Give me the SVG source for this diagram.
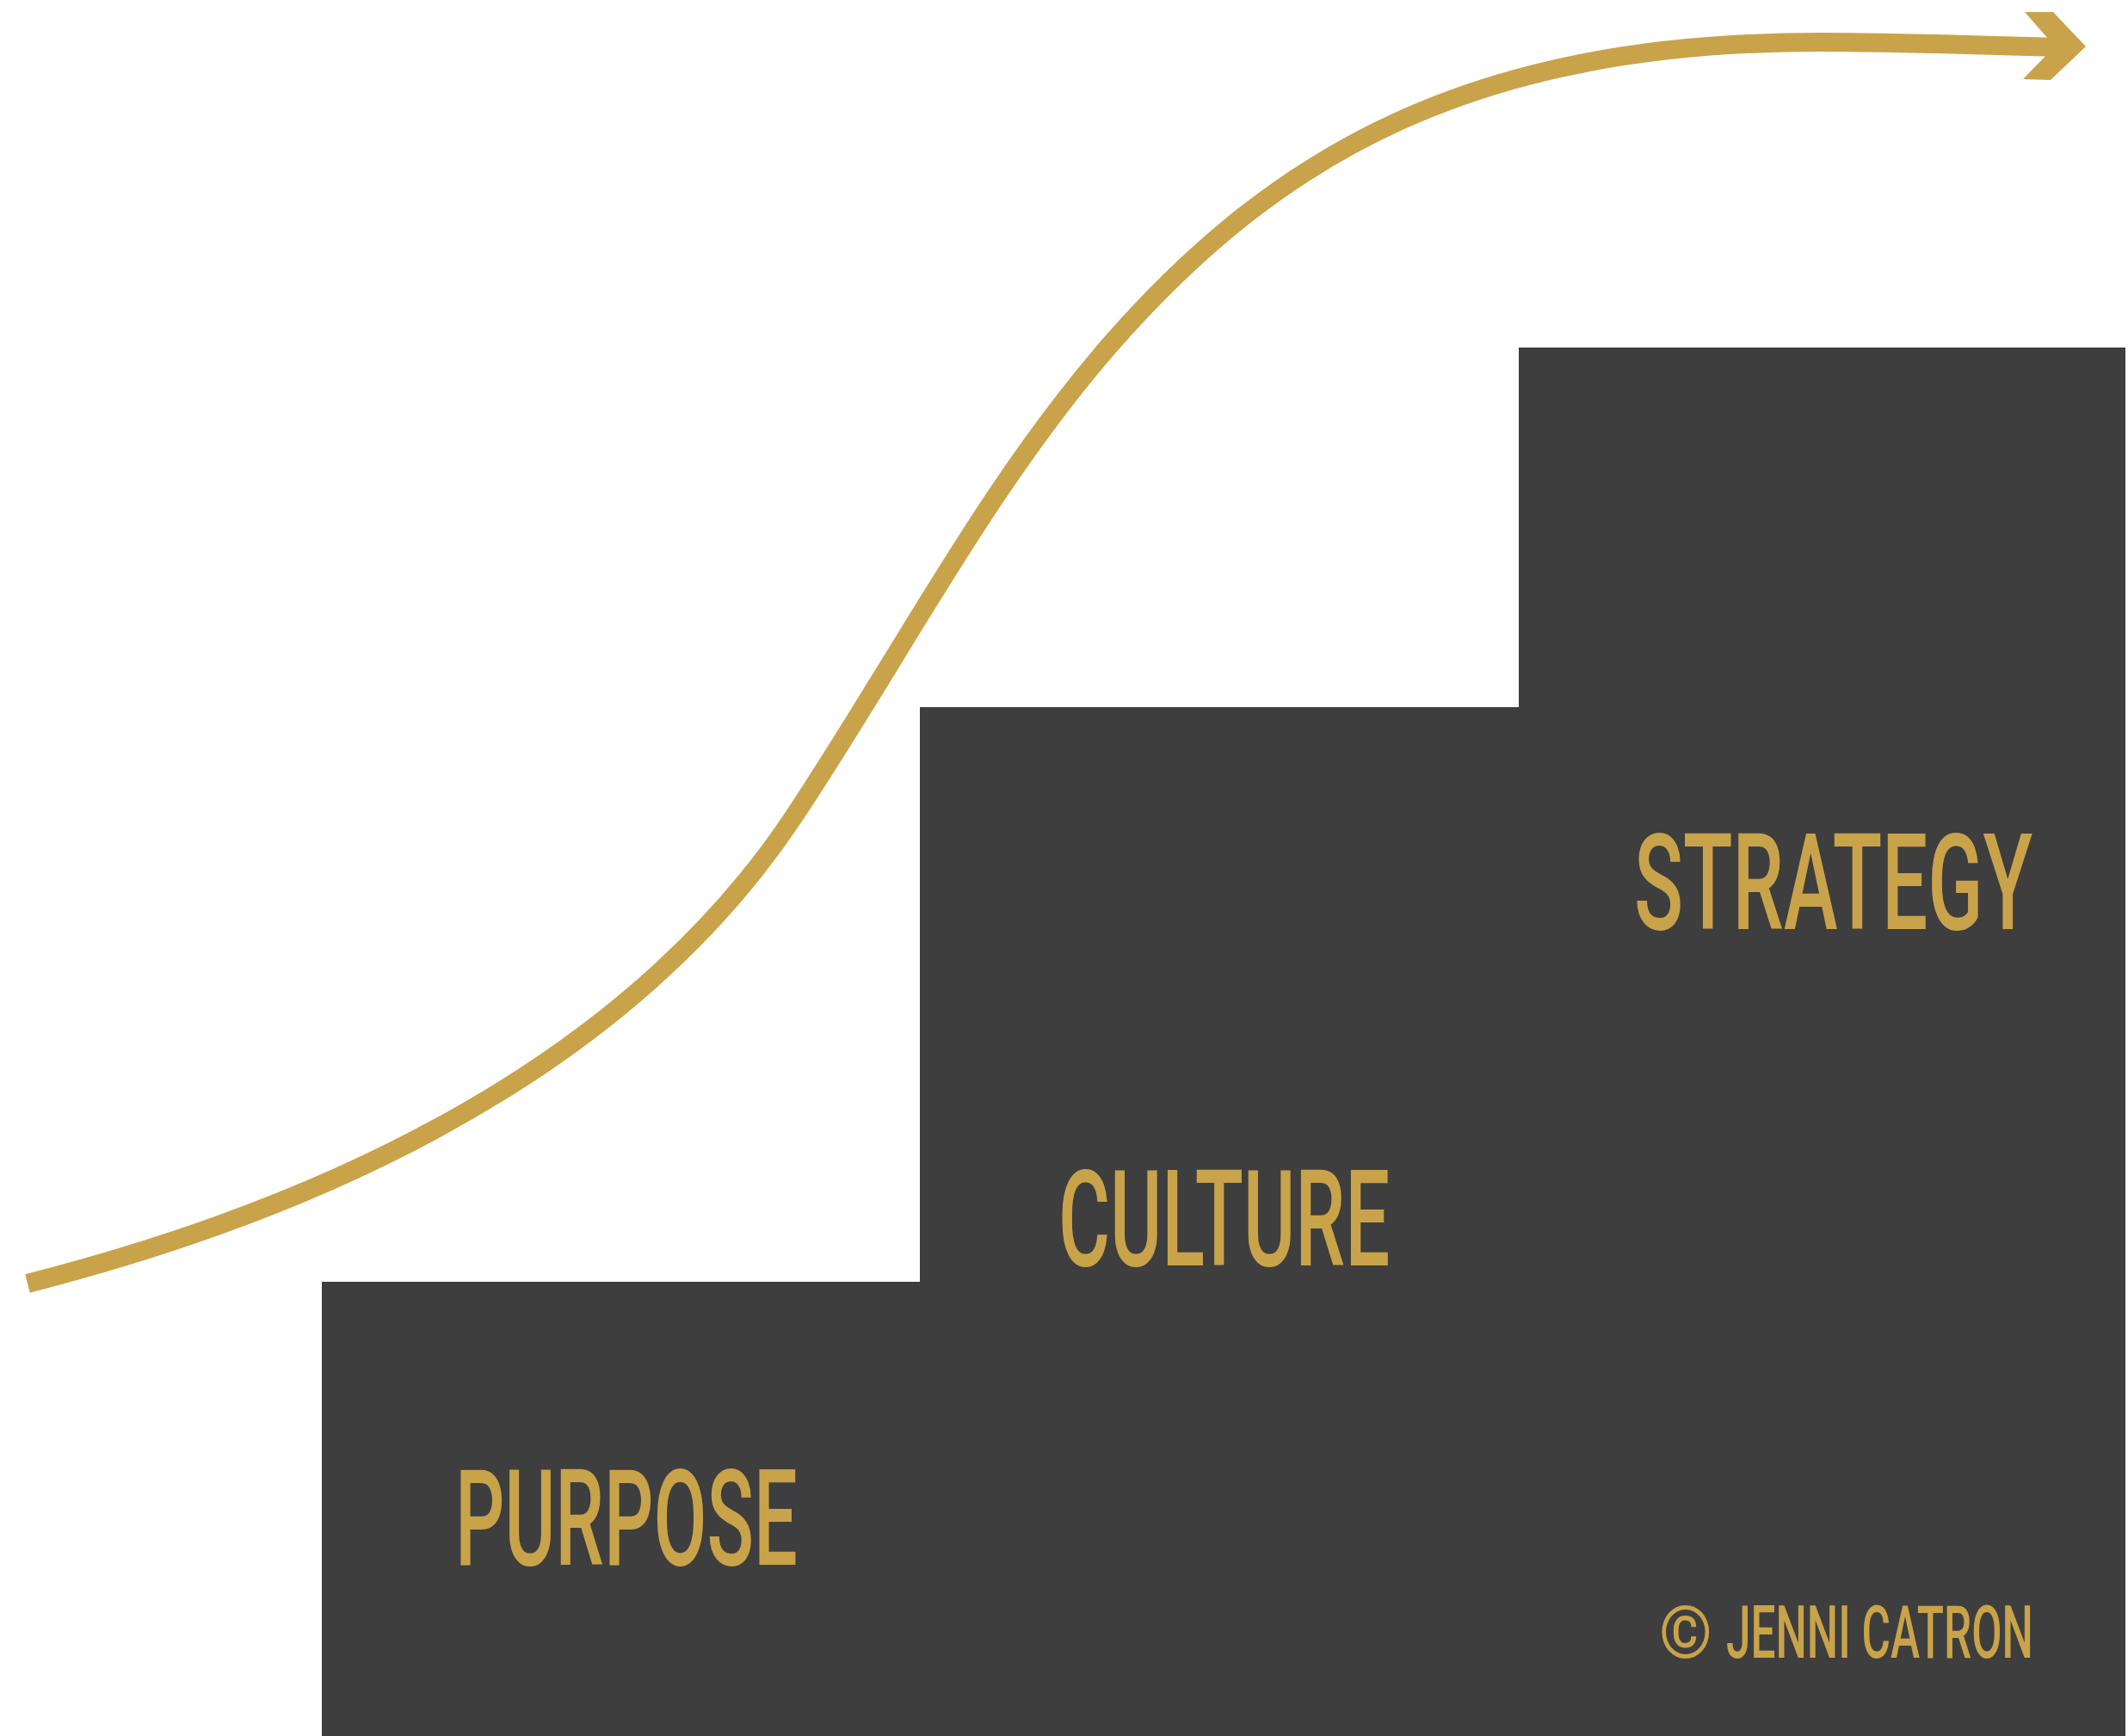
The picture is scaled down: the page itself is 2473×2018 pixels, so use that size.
<svg xmlns="http://www.w3.org/2000/svg" width="2473" height="2018" viewBox="0 0 2473 2018">
  <style>
    .step { fill: #3e3e3e; }
    .lbl { fill: #c9a34a; font-family: Roboto, "Liberation Sans", sans-serif; font-weight: 500; }
    .curve { fill: none; stroke: #c9a34a; stroke-width: 22; stroke-linejoin: round; }
    .head { fill: #c9a34a; }
  </style>
  <rect width="2473" height="2018" fill="#ffffff"/>
  <g id="stairs">
    <polygon class="step" points="374,2018 374,1490 1069,1490 1069,822 1765,822 1765,404 2470,404 2470,2018"/>
  </g>
  <g id="connectors">
    <path class="curve" d="M 32 1492 C 470 1380, 762 1190, 922 950 C 1044 767, 1145 568, 1289 402 C 1486 176, 1715 49, 2115 49 C 2200 49, 2330 53, 2395 55"/>
    <polygon class="head" points="2353,14 2386,14 2424,54 2383,93 2351,92 2388,54"/>
  </g>
  <g id="node-strategy">
    <text class="lbl" transform="translate(1899,1080) scale(0.6,1)" x="0" y="0" font-size="155" textLength="772" lengthAdjust="spacingAndGlyphs">STRATEGY</text>
  </g>
  <g id="node-culture">
    <text class="lbl" transform="translate(1230,1471) scale(0.6,1)" x="0" y="0" font-size="155" textLength="642" lengthAdjust="spacingAndGlyphs">CULTURE</text>
  </g>
  <g id="node-purpose">
    <text class="lbl" transform="translate(529,1819) scale(0.6,1)" x="0" y="0" font-size="155" textLength="663" lengthAdjust="spacingAndGlyphs">PURPOSE</text>
  </g>
  <g id="copyright">
    <text class="lbl" transform="translate(1928,1927) scale(0.85,1)" x="0" y="0" font-size="86" font-weight="400" textLength="73" lengthAdjust="spacingAndGlyphs">©</text>
    <text class="lbl" transform="translate(2006,1927) scale(0.6,1)" x="0" y="0" font-size="86" textLength="595" lengthAdjust="spacingAndGlyphs">JENNI CATRON</text>
  </g>
</svg>
